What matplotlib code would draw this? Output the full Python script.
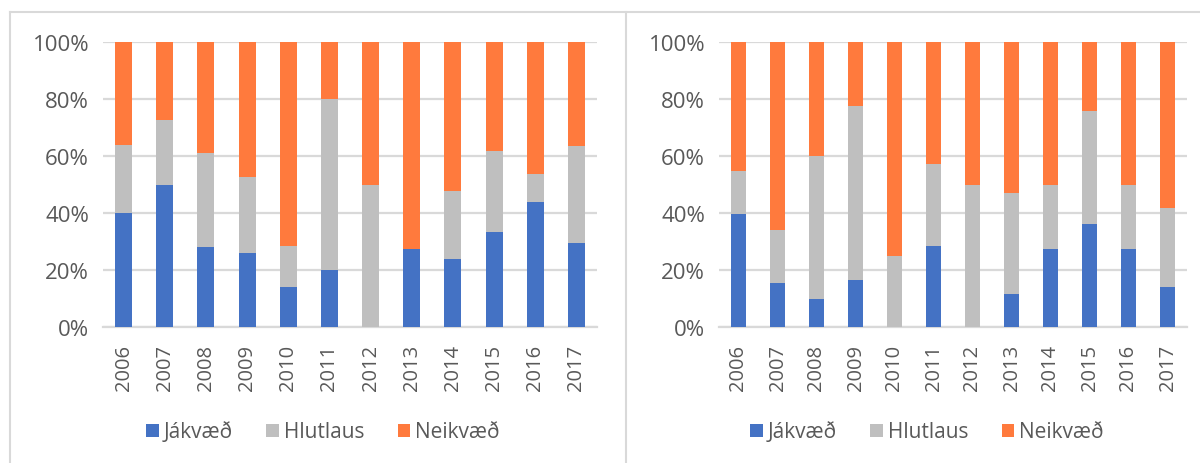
import numpy as np
import matplotlib.pyplot as plt
from matplotlib.lines import Line2D
from matplotlib.patches import Patch

plt.rcParams['font.family'] = ['Open Sans', 'DejaVu Sans']

years = ['2006', '2007', '2008', '2009', '2010', '2011',
         '2012', '2013', '2014', '2015', '2016', '2017']
series_names = ['Jákvæð', 'Hlutlaus', 'Neikvæð']

# vinstra graf (%)
left_jak = [40.0, 50.0, 28.2, 26.1, 14.2, 20.0, 0.0, 27.2, 23.7, 33.2, 44.0, 29.3]
left_hlut = [24.0, 22.8, 32.8, 26.6, 14.2, 60.0, 50.0, 0.0, 23.9, 28.6, 9.6, 34.3]
left_neik = [36.0, 27.2, 39.0, 47.3, 71.6, 20.0, 50.0, 72.8, 52.4, 38.2, 46.4, 36.4]

# hægra graf (%)
right_jak = [39.6, 15.6, 9.8, 16.6, 0.0, 28.4, 0.0, 11.7, 27.2, 36.2, 27.3, 13.9]
right_hlut = [15.1, 18.4, 50.2, 61.1, 25.0, 28.7, 50.0, 35.4, 22.8, 39.6, 22.7, 27.9]
right_neik = [45.3, 66.0, 40.0, 22.3, 75.0, 42.9, 50.0, 52.9, 50.0, 24.2, 50.0, 58.2]

colors = ['#4472C4', '#BFBFBF', '#FF7A3D']
txt = '#595959'
grid_c = '#D9D9D9'

W, H = 1200, 464
fig = plt.figure(figsize=(W / 100, H / 100), dpi=100)


def draw(ax, jak, hlut, neik):
    x = np.arange(len(years))
    jak = np.array(jak)
    hlut = np.array(hlut)
    neik = np.array(neik)
    ax.bar(x, jak, 0.41, color=colors[0], zorder=3)
    ax.bar(x, hlut, 0.41, bottom=jak, color=colors[1], zorder=3)
    ax.bar(x, neik, 0.41, bottom=jak + hlut, color=colors[2], zorder=3)
    ax.set_xlim(-0.5, len(years) - 0.5)
    ax.set_ylim(0, 100)
    ax.set_yticks(np.arange(0, 101, 20))
    ax.set_yticklabels([f'{v}%' for v in range(0, 101, 20)])
    ax.set_xticks(x)
    ax.set_xticklabels(years, rotation=90)
    ax.yaxis.grid(True, color=grid_c, linewidth=1.6, zorder=0)
    for s in ['top', 'right', 'left']:
        ax.spines[s].set_visible(False)
    ax.spines['bottom'].set_color(grid_c)
    ax.spines['bottom'].set_linewidth(1.6)
    ax.tick_params(axis='both', length=0, colors=txt, labelsize=14.5)
    ax.tick_params(axis='y', pad=10, labelsize=16)
    ax.tick_params(axis='x', pad=12)


ax1 = fig.add_axes([103 / W, 1 - 328 / H, 494 / W, 285 / H])
draw(ax1, left_jak, left_hlut, left_neik)
ax2 = fig.add_axes([719 / W, 1 - 328 / H, 468 / W, 285 / H])
draw(ax2, right_jak, right_hlut, right_neik)

handles = [Patch(facecolor=c, edgecolor='none') for c in colors]
for cx in [323 / W, 927 / W]:
    leg = fig.legend(handles, series_names, loc='center', bbox_to_anchor=(cx, 1 - 433 / H),
                     ncol=3, frameon=False, fontsize=15, handlelength=0.6, handleheight=0.6,
                     handletextpad=0.25, columnspacing=1.6)
    for t in leg.get_texts():
        t.set_color(txt)

# rammar utan um gröfin
fig.add_artist(Line2D([10 / W, 1], [1 - 13 / H, 1 - 13 / H], color=grid_c, lw=1.5))
fig.add_artist(Line2D([10 / W, 10 / W], [0, 1 - 13 / H], color=grid_c, lw=1.5))
fig.add_artist(Line2D([626 / W, 626 / W], [0, 1 - 13 / H], color=grid_c, lw=1.5))

fig.savefig('out.png', dpi=100)
